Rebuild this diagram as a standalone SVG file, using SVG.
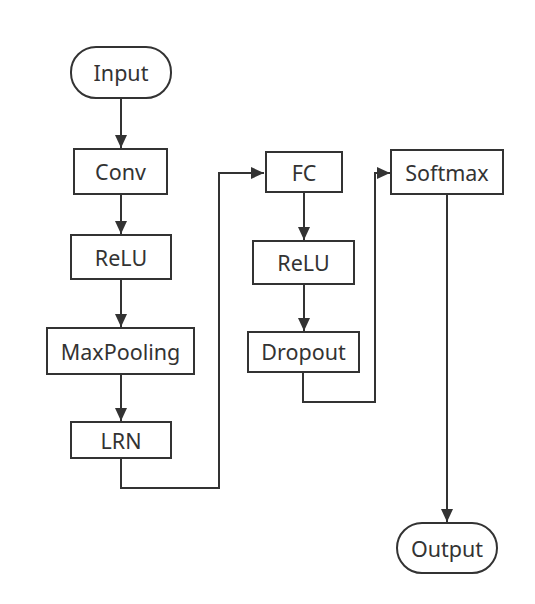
<svg xmlns="http://www.w3.org/2000/svg" width="535" height="604" viewBox="0 0 535 604">
<defs>
<style>
.box{fill:#fff;stroke:#333;stroke-width:2}
.lbl{font-family:"Noto Sans","Open Sans","DejaVu Sans",sans-serif;font-size:21.5px;fill:#333;text-anchor:middle;dominant-baseline:central}
.edge{fill:none;stroke:#333;stroke-width:2}
</style>
<marker id="arr" markerUnits="userSpaceOnUse" markerWidth="14" markerHeight="12" refX="13" refY="6" orient="auto">
<path d="M0,0 L13,6 L0,12 Z" fill="#333"/>
</marker>
</defs>
<rect width="535" height="604" fill="#fff"/>
<g id="connectors">
<path class="edge" d="M121,98 V148" marker-end="url(#arr)"/>
<path class="edge" d="M121,194 V234" marker-end="url(#arr)"/>
<path class="edge" d="M121,279 V327" marker-end="url(#arr)"/>
<path class="edge" d="M121,374 V421" marker-end="url(#arr)"/>
<path class="edge" d="M121,458 V488 H219 V173 H264" marker-end="url(#arr)"/>
<path class="edge" d="M304,192 V240" marker-end="url(#arr)"/>
<path class="edge" d="M304,284 V331" marker-end="url(#arr)"/>
<path class="edge" d="M303,372 V402 H375 V173 H390" marker-end="url(#arr)"/>
<path class="edge" d="M447,194 V522" marker-end="url(#arr)"/>
</g>
<g id="input"><rect class="box" x="71" y="47" width="100" height="51" rx="25" ry="25"/><text class="lbl" x="121" y="72">Input</text></g>
<g id="conv"><rect class="box" x="74" y="149" width="93" height="45"/><text class="lbl" x="120.5" y="171">Conv</text></g>
<g id="relu1"><rect class="box" x="71" y="235" width="100" height="44"/><text class="lbl" x="121" y="257">ReLU</text></g>
<g id="maxpooling"><rect class="box" x="47" y="328" width="147" height="46"/><text class="lbl" x="120.5" y="351">MaxPooling</text></g>
<g id="lrn"><rect class="box" x="71" y="422" width="100" height="36"/><text class="lbl" x="121" y="440">LRN</text></g>
<g id="fc"><rect class="box" x="266" y="152" width="76" height="40"/><text class="lbl" x="304" y="172">FC</text></g>
<g id="relu2"><rect class="box" x="253" y="241" width="101" height="43"/><text class="lbl" x="303.5" y="262">ReLU</text></g>
<g id="dropout"><rect class="box" x="248" y="332" width="111" height="40"/><text class="lbl" x="303.5" y="351">Dropout</text></g>
<g id="softmax"><rect class="box" x="391" y="150" width="112" height="44"/><text class="lbl" x="447" y="172">Softmax</text></g>
<g id="output"><rect class="box" x="397" y="523" width="100" height="50" rx="25" ry="25"/><text class="lbl" x="447" y="548">Output</text></g>
</svg>
